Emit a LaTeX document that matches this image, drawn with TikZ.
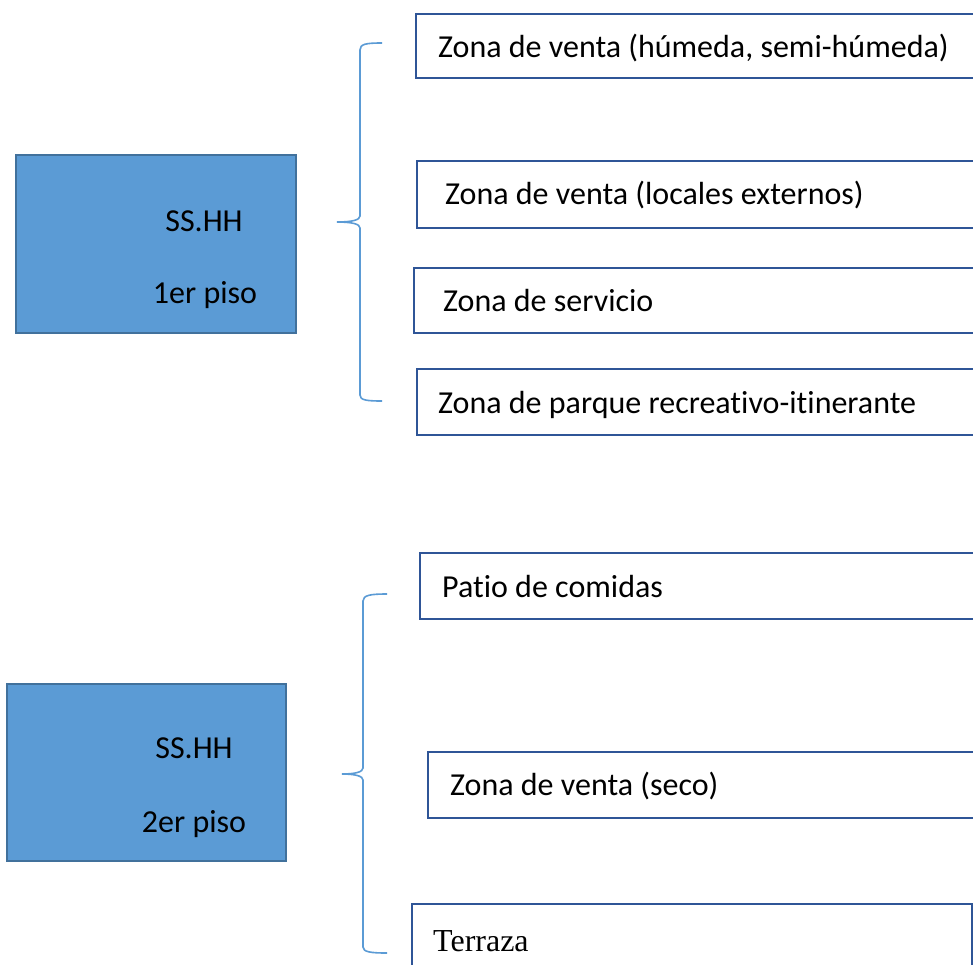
\documentclass[tikz,border=0pt]{standalone}
\usepackage{fontspec}
\setmainfont[Ligatures=NoCommon]{Carlito}
\newfontfamily\timesf{Liberation Serif}
\definecolor{fillblue}{HTML}{5B9BD5}
\definecolor{edgeblue}{HTML}{41719C}
\definecolor{boxedge}{HTML}{2F5597}
\definecolor{bracec}{HTML}{5B9BD5}
\begin{document}
\begin{tikzpicture}[x=1pt,y=-1pt, font=\fontsize{32}{38}\selectfont,
 bluebox/.style={draw=edgeblue, fill=fillblue, line width=1.5pt, anchor=north west, inner sep=0pt, outer sep=0pt},
 zonebox/.style={draw=boxedge, line width=2pt, anchor=north west, inner sep=0pt, outer sep=0pt, fill=white},
 lbl/.style={anchor=base west, inner sep=0pt},
 clbl/.style={anchor=base, inner sep=0pt},
 bracepath/.style={draw=bracec, line width=1.6pt}]
\useasboundingbox (0,0) rectangle (973,964);
\clip (0,0) rectangle (973,964);
\fill[white] (0,0) rectangle (973,964);
% blue boxes
\node[bluebox, minimum width=280pt, minimum height=178pt] (p1) at (16,155) {};
\node[bluebox, minimum width=279pt, minimum height=177pt] (p2) at (7,684) {};
\node[clbl] (p1a) at (204,231) {SS.HH};
\node[clbl] (p1b) at (205,303) {1er piso};
\node[clbl] (p2a) at (194,758) {SS.HH};
\node[clbl] (p2b) at (194,832) {2er piso};
% zone boxes
\node[zonebox, minimum width=700pt, minimum height=64pt] (z1) at (416,14) {};
\node[zonebox, minimum width=700pt, minimum height=67pt] (z2) at (417,161) {};
\node[zonebox, minimum width=700pt, minimum height=65pt] (z3) at (414,268) {};
\node[zonebox, minimum width=700pt, minimum height=66pt] (z4) at (417,369) {};
\node[zonebox, minimum width=700pt, minimum height=66pt] (z5) at (420,553) {};
\node[zonebox, minimum width=700pt, minimum height=66pt] (z6) at (428,752) {};
\node[zonebox, minimum width=560pt, minimum height=90pt] (z7) at (412,904) {};
\node[lbl] (t1) at (438,57) {Zona de venta (húmeda, semi-húmeda)};
\node[lbl] (t2) at (445,204) {Zona de venta (locales externos)};
\node[lbl] (t3) at (443,311) {Zona de servicio};
\node[lbl] (t4) at (438,413) {Zona de parque recreativo-itinerante};
\node[lbl] (t5) at (442,597) {Patio de comidas};
\node[lbl] (t6) at (450,795) {Zona de venta (seco)};
\node[lbl, font=\timesf\fontsize{32}{38}\selectfont] (t7) at (433,951) {Terraza};
% braces
\coordinate (b1top) at (382,43);
\coordinate (b1tip) at (337,222);
\coordinate (b1bot) at (382,401);
\draw[bracepath] (b1top) .. controls (366,43) and (360,44) .. (360,50) -- (360,216)
  .. controls (360,220) and (352,222) .. (b1tip)
  .. controls (352,222) and (360,224) .. (360,228) -- (360,395)
  .. controls (360,400) and (366,401) .. (b1bot);
\coordinate (b2top) at (387,594);
\coordinate (b2tip) at (342,774);
\coordinate (b2bot) at (387,953);
\draw[bracepath] (b2top) .. controls (371,594) and (363,595) .. (363,601) -- (363,768)
  .. controls (363,772) and (355,774) .. (b2tip)
  .. controls (355,774) and (363,776) .. (363,780) -- (363,947)
  .. controls (363,952) and (371,953) .. (b2bot);
\end{tikzpicture}
\end{document}
